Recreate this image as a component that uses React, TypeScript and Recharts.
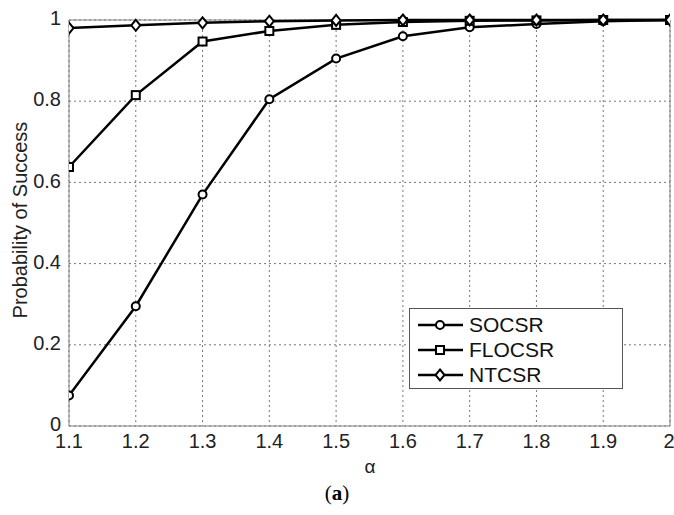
import React from 'react';
import {
  LineChart,
  Line,
  XAxis,
  YAxis,
  CartesianGrid,
  ReferenceLine,
} from 'recharts';

const alphas = [1.1, 1.2, 1.3, 1.4, 1.5, 1.6, 1.7, 1.8, 1.9, 2];
const socsr = [0.075, 0.295, 0.57, 0.805, 0.905, 0.96, 0.982, 0.99, 0.997, 1.0];
const flocsr = [0.638, 0.815, 0.947, 0.973, 0.988, 0.995, 0.998, 0.999, 1.0, 1.0];
const ntcsr = [0.98, 0.987, 0.993, 0.997, 0.999, 1.0, 1.0, 1.0, 1.0, 1.0];

const xTicks = [1.1, 1.2, 1.3, 1.4, 1.5, 1.6, 1.7, 1.8, 1.9, 2];
const yTicks = [0, 0.2, 0.4, 0.6, 0.8, 1];

const seriesNames = ['SOCSR', 'FLOCSR', 'NTCSR'];

const data = alphas.map((a, i) => ({
  alpha: a,
  SOCSR: socsr[i],
  FLOCSR: flocsr[i],
  NTCSR: ntcsr[i],
}));

const FONT = 'Arial, "Liberation Sans", sans-serif';

function Marker({ kind, cx, cy }: { kind: string; cx: number; cy: number }) {
  if (kind === 'SOCSR') {
    return <circle cx={cx} cy={cy} r={4} fill="#fff" stroke="#000" strokeWidth={2} />;
  }
  if (kind === 'FLOCSR') {
    return (
      <rect x={cx - 4} y={cy - 4} width={8} height={8} fill="#fff" stroke="#000" strokeWidth={2} />
    );
  }
  return (
    <path
      d={`M${cx},${cy - 5.5} L${cx + 4.5},${cy} L${cx},${cy + 5.5} L${cx - 4.5},${cy} Z`}
      fill="#fff"
      stroke="#000"
      strokeWidth={2}
    />
  );
}

const makeDot = (kind: string) => (props: any) => (
  <Marker key={`${kind}-${props.index}`} kind={kind} cx={props.cx} cy={props.cy} />
);

function LegendBox() {
  return (
    <div
      style={{
        position: 'absolute',
        left: 409,
        top: 308,
        width: 214,
        height: 81,
        border: '1px solid #555',
        background: '#fff',
        boxSizing: 'border-box',
        paddingTop: 3,
      }}
    >
      {seriesNames.map((name) => (
        <div key={name} style={{ display: 'flex', alignItems: 'center', height: 25 }}>
          <svg width={59} height={20}>
            <line x1={8} y1={10} x2={53} y2={10} stroke="#000" strokeWidth={2.5} />
            <Marker kind={name} cx={30} cy={10} />
          </svg>
          <span style={{ fontFamily: FONT, fontSize: 21, color: '#111' }}>{name}</span>
        </div>
      ))}
    </div>
  );
}

export default function App() {
  return (
    <div style={{ position: 'absolute', left: 0, top: 0, width: 674, height: 515, background: '#fff', overflow: 'hidden' }}>
      <LineChart
        width={674}
        height={515}
        data={data}
        margin={{ top: 20, right: 4, bottom: 49, left: 0 }}
      >
        <CartesianGrid stroke="#777" strokeDasharray="2 3" />
        <XAxis
          dataKey="alpha"
          type="number"
          domain={[1.1, 2]}
          ticks={xTicks}
          tickFormatter={(v: number) => String(v)}
          height={40}
          tick={{ fontSize: 20, fill: '#222', fontFamily: FONT }}
          tickLine={false}
          axisLine={{ stroke: '#808080' }}
          allowDataOverflow
        />
        <YAxis
          type="number"
          domain={[0, 1]}
          ticks={yTicks}
          tickFormatter={(v: number) => String(v)}
          width={69}
          tick={{ fontSize: 20, fill: '#222', fontFamily: FONT, dy: -2 }}
          tickLine={false}
          axisLine={{ stroke: '#808080' }}
        />
        <ReferenceLine y={1} stroke="#808080" />
        <ReferenceLine x={2} stroke="#808080" />
        {seriesNames.map((name) => (
          <Line
            key={name}
            dataKey={name}
            stroke="#000"
            strokeWidth={2.5}
            dot={makeDot(name)}
            isAnimationActive={false}
          />
        ))}
      </LineChart>
      <LegendBox />
      <div
        style={{
          position: 'absolute',
          left: 20,
          top: 220,
          transform: 'translate(-50%, -50%) rotate(-90deg)',
          fontFamily: FONT,
          fontSize: 20,
          color: '#222',
          whiteSpace: 'nowrap',
        }}
      >
        Probability of Success
      </div>
      <div
        style={{
          position: 'absolute',
          left: 370,
          top: 467,
          transform: 'translate(-50%, -50%)',
          fontFamily: FONT,
          fontSize: 19,
          color: '#222',
        }}
      >
        α
      </div>
      <div
        style={{
          position: 'absolute',
          left: 337,
          top: 493,
          transform: 'translate(-50%, -50%)',
          fontFamily: '"Liberation Serif", "DejaVu Serif", serif',
          fontSize: 21,
          color: '#000',
        }}
      >
        (<b>a</b>)
      </div>
    </div>
  );
}
